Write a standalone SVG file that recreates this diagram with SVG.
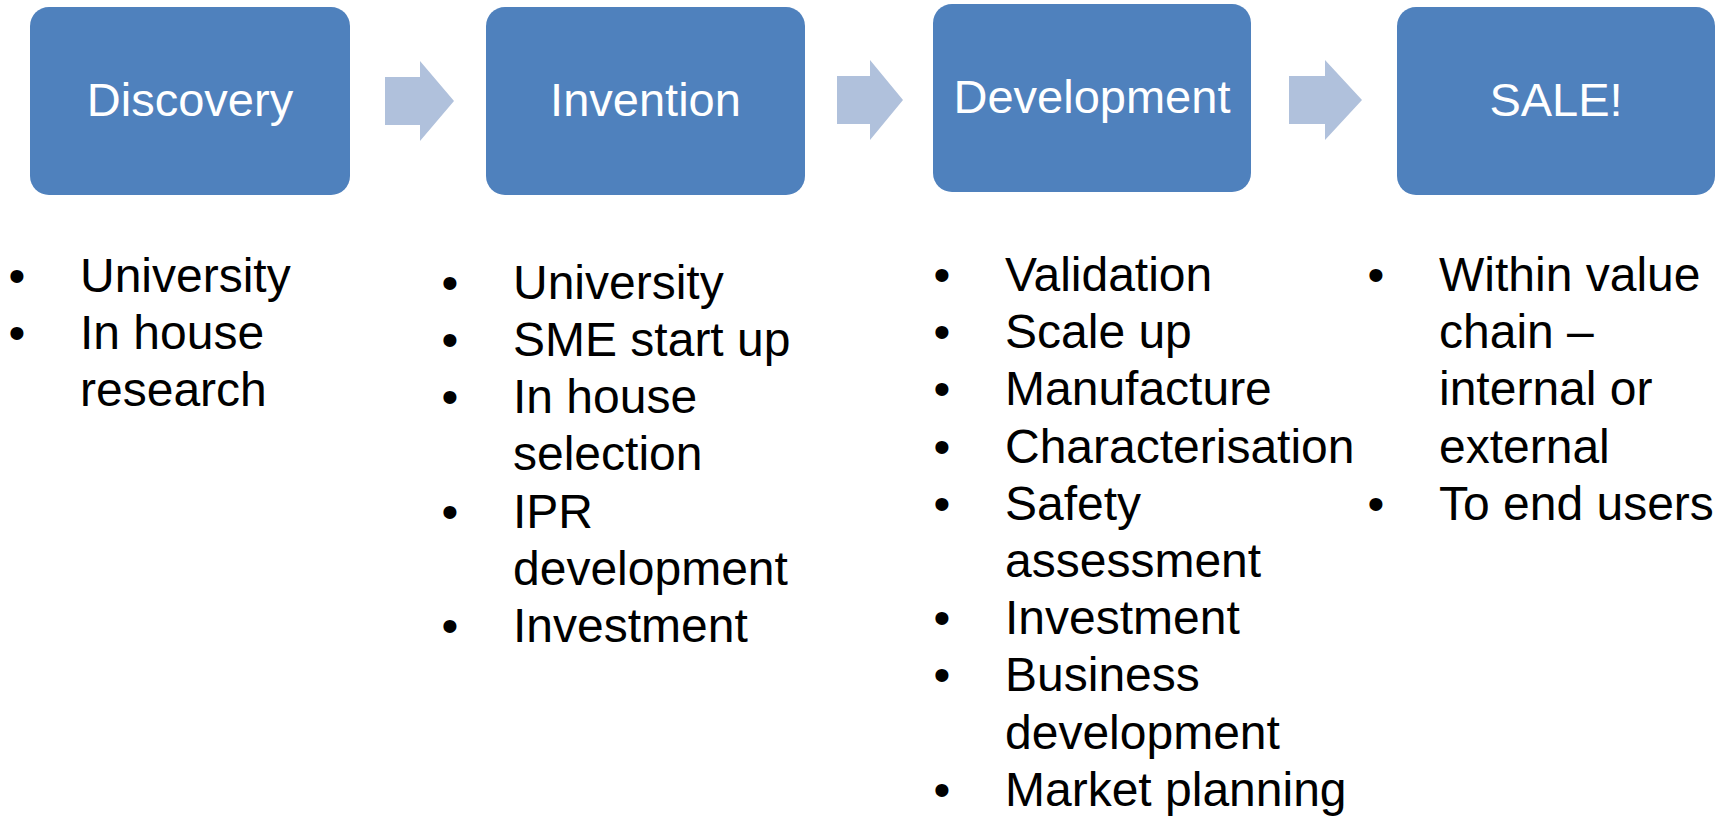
<svg xmlns="http://www.w3.org/2000/svg" width="1731" height="816" viewBox="0 0 1731 816">
  <style>
    .box { fill: #4F81BD; }
    .title { font-family: "Liberation Sans", Arial, sans-serif; font-size: 47px; fill: #FFFFFF; text-anchor: middle; }
    .arrow { fill: #B0C1DC; }
    .item { font-family: "Liberation Sans", Arial, sans-serif; font-size: 48px; fill: #000000; }
    .dot { font-family: "Liberation Sans", Arial, sans-serif; font-size: 48px; fill: #000000; text-anchor: middle; }
  </style>
  <rect width="1731" height="816" fill="#FFFFFF"/>

  <!-- process stages -->
  <g id="discovery">
    <rect class="box" x="30" y="7" width="320" height="188" rx="19"/>
    <text class="title" x="190" y="116">Discovery</text>
  </g>
  <g id="invention">
    <rect class="box" x="486" y="7" width="319" height="188" rx="19"/>
    <text class="title" x="645.5" y="116">Invention</text>
  </g>
  <g id="development">
    <rect class="box" x="933" y="4" width="318" height="188" rx="19"/>
    <text class="title" x="1092" y="113">Development</text>
  </g>
  <g id="sale">
    <rect class="box" x="1397" y="7" width="318" height="188" rx="19"/>
    <text class="title" x="1556" y="116">SALE!</text>
  </g>

  <!-- block arrows between stages -->
  <g id="connectors">
    <polygon class="arrow" points="385,77 420,77 420,61 454,101 420,141 420,125 385,125"/>
    <polygon class="arrow" points="837,76 870,76 870,60 903,100 870,140 870,124 837,124"/>
    <polygon class="arrow" points="1289,76 1325,76 1325,60 1362,100 1325,140 1325,124 1289,124"/>
  </g>

  <!-- bullet list under Discovery -->
  <g id="discovery-list">
    <text class="dot" x="17" y="292">•</text>
    <text class="item" x="80" y="292">University</text>
    <text class="dot" x="17" y="349">•</text>
    <text class="item" x="80" y="349">In house</text>
    <text class="item" x="80" y="406">research</text>
  </g>

  <!-- bullet list under Invention -->
  <g id="invention-list">
    <text class="dot" x="450" y="299">•</text>
    <text class="item" x="513" y="299">University</text>
    <text class="dot" x="450" y="356">•</text>
    <text class="item" x="513" y="356">SME start up</text>
    <text class="dot" x="450" y="413">•</text>
    <text class="item" x="513" y="413">In house</text>
    <text class="item" x="513" y="470">selection</text>
    <text class="dot" x="450" y="528">•</text>
    <text class="item" x="513" y="528">IPR</text>
    <text class="item" x="513" y="585">development</text>
    <text class="dot" x="450" y="642">•</text>
    <text class="item" x="513" y="642">Investment</text>
  </g>

  <!-- bullet list under Development -->
  <g id="development-list">
    <text class="dot" x="942" y="291">•</text>
    <text class="item" x="1005" y="291">Validation</text>
    <text class="dot" x="942" y="348">•</text>
    <text class="item" x="1005" y="348">Scale up</text>
    <text class="dot" x="942" y="405">•</text>
    <text class="item" x="1005" y="405">Manufacture</text>
    <text class="dot" x="942" y="463">•</text>
    <text class="item" x="1005" y="463">Characterisation</text>
    <text class="dot" x="942" y="520">•</text>
    <text class="item" x="1005" y="520">Safety</text>
    <text class="item" x="1005" y="577">assessment</text>
    <text class="dot" x="942" y="634">•</text>
    <text class="item" x="1005" y="634">Investment</text>
    <text class="dot" x="942" y="691">•</text>
    <text class="item" x="1005" y="691">Business</text>
    <text class="item" x="1005" y="749">development</text>
    <text class="dot" x="942" y="806">•</text>
    <text class="item" x="1005" y="806">Market planning</text>
  </g>

  <!-- bullet list under SALE! -->
  <g id="sale-list">
    <text class="dot" x="1376" y="291">•</text>
    <text class="item" x="1439" y="291">Within value</text>
    <text class="item" x="1439" y="348">chain –</text>
    <text class="item" x="1439" y="405">internal or</text>
    <text class="item" x="1439" y="463">external</text>
    <text class="dot" x="1376" y="520">•</text>
    <text class="item" x="1439" y="520">To end users</text>
  </g>
</svg>
